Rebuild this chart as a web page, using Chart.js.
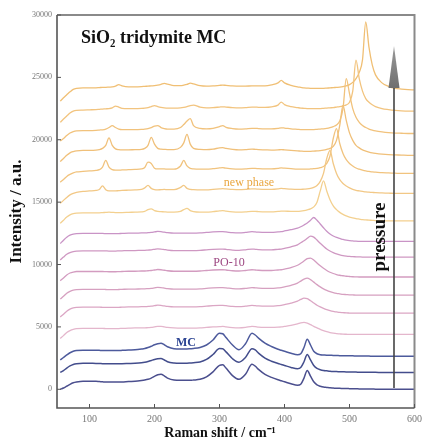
<!DOCTYPE html>
<html><head><meta charset="utf-8">
<script src="https://cdn.jsdelivr.net/npm/chart.js@4.4.1/dist/chart.umd.min.js"></script>
<style>html,body{margin:0;padding:0;background:#fff}#wrap{width:427px;height:441px;position:relative}</style>
</head><body><div id="wrap"><canvas id="c" width="427" height="441"></canvas></div>
<script>
// Raman shift grid (cm-1)
const ramanShift = [55,60,65,70,75,80,
 90,100,110,115,120,125,130,135,140,145,150,
 160,170,180,185,190,195,200,205,210,215,220,
 230,240,245,250,255,260,270,280,290,300,
 305,310,320,330,340,350,355,360,370,380,390,395,400,410,420,
 425,430,435,440,445,450,455,460,465,470,475,480,
 485,490,495,500,505,510,515,520,525,530,535,540,
 550,560,570,580,590,600];

const xTicks = [100,200,300,400,500,600];
const yTicks = [0,5000,10000,15000,20000,25000,30000];

// vertical display offsets of the stacked spectra (intensity units), bottom to top
const offsets = [0,1350,2650, 4400,6100,7550,9000,10600,11850, 13500,15700,17300,18750,20500,22300,24000];

// MC spectra
const mc_a = [0,100,250,400,520,580,
 640,640,640,620,600,580,580,580,580,580,580,
 620,640,700,740,800,900,1040,1160,1200,1080,900,
 740,720,720,720,720,740,800,1000,1400,1920,
 1960,1700,1100,800,1200,2000,1850,1600,1200,950,760,680,600,440,320,
 400,900,1500,1050,600,350,250,180,150,120,100,80,
 80,60,60,50,40,40,30,30,20,20,20,10,
 10,0,0,0,0,0];
const mc_b = [0,150,350,520,640,700,
 740,740,720,720,700,700,700,700,700,700,700,
 720,740,780,820,880,960,1040,1100,1120,1000,860,
 760,740,740,740,760,780,840,1040,1440,1920,
 1900,1650,1100,820,1200,1900,1800,1550,1150,900,720,640,560,400,300,
 400,860,1440,1000,560,320,220,160,130,100,80,70,
 60,50,40,40,30,30,20,20,20,10,10,10,
 0,0,0,0,0,0];
const mc_c = [-300,-100,100,280,400,460,
 480,480,480,470,460,460,460,460,460,460,470,
 500,520,580,620,700,800,920,1000,1040,920,760,
 600,580,580,580,600,620,700,900,1300,1840,
 1800,1500,900,520,1000,1840,1700,1450,1050,780,560,480,400,240,120,
 200,700,1360,900,400,200,120,100,80,80,60,60,
 40,40,40,30,30,20,20,20,10,10,0,0,
 0,0,0,0,0,0];
// PO-10 spectra
const po_a = [-320,-100,150,300,400,460,
 480,480,480,480,480,470,460,460,460,470,480,
 500,520,520,520,540,560,600,640,640,600,560,
 520,500,500,500,500,500,520,560,600,620,
 640,600,540,520,560,640,620,580,560,560,580,600,640,720,840,
 920,960,900,780,640,520,400,300,220,150,100,60,
 40,20,10,0,0,0,0,0,0,0,0,0,
 0,0,0,0,0,0];
const po_b = [-300,-80,160,320,420,460,
 480,480,480,480,470,460,460,460,460,470,480,
 500,500,520,520,540,560,600,640,620,580,540,
 500,500,500,500,500,500,520,560,600,620,
 620,600,540,520,560,620,600,580,560,560,600,620,680,800,960,
 1100,1200,1160,1000,820,640,500,380,280,200,140,100,
 60,40,20,10,0,0,0,0,0,0,0,0,
 0,0,0,0,0,0];
const po_c = [-320,-100,150,300,400,440,
 460,460,460,460,460,450,440,440,440,450,460,
 480,480,500,500,520,540,580,620,600,560,520,
 480,480,480,480,480,480,500,540,580,600,
 600,580,520,500,540,600,580,560,540,540,580,600,660,780,960,
 1120,1280,1360,1240,1040,840,660,500,380,280,200,140,
 100,60,40,20,10,0,0,0,0,0,0,0,
 0,0,0,0,0,0];
const po_d = [-300,-80,160,320,400,440,
 440,440,440,440,440,430,420,420,420,430,440,
 460,460,480,480,500,520,560,600,580,540,500,
 460,460,460,460,460,460,480,520,560,580,
 580,560,500,480,520,580,560,540,520,520,560,580,640,760,940,
 1100,1280,1480,1520,1360,1120,900,700,520,380,280,200,
 140,100,60,40,20,10,0,0,0,0,0,0,
 0,0,0,0,0,0];
const po_e = [-240,0,220,360,440,480,
 500,500,500,500,500,490,480,480,480,490,500,
 520,520,540,540,560,580,620,660,640,600,560,
 520,520,520,520,520,520,540,580,620,640,
 640,620,560,540,580,640,620,600,580,580,620,640,700,820,980,
 1140,1300,1500,1680,1600,1360,1100,860,640,480,360,260,
 180,120,80,50,30,20,10,0,0,0,0,0,
 0,0,0,0,0,0];
const po_f = [-160,100,340,500,580,620,
 640,640,640,640,640,630,620,620,620,630,640,
 660,660,680,680,700,720,760,800,780,740,700,
 660,660,660,660,660,660,680,720,760,780,
 780,760,700,680,720,780,760,740,720,720,760,780,840,940,1060,
 1180,1320,1480,1700,1920,1700,1400,1100,820,600,440,320,
 240,160,100,60,40,20,10,0,0,0,0,0,
 0,0,0,0,0,0];
// new phase spectra
const np_a = [-200,50,300,480,580,620,
 640,640,640,640,660,680,700,680,660,660,660,
 680,700,720,760,900,960,820,760,740,720,700,
 700,760,900,1000,820,740,700,700,740,800,
 820,780,720,700,720,760,760,740,720,720,760,780,780,760,760,
 780,820,880,960,1120,1500,2400,3200,2400,1700,1200,900,
 680,520,400,300,240,180,140,100,80,60,40,20,
 0,0,0,0,0,0];
const np_b = [-800,-560,-320,-120,0,80,
 160,200,240,320,600,300,200,200,200,220,240,
 260,280,320,440,640,400,300,280,300,320,300,
 300,480,640,400,320,300,280,280,320,360,
 380,360,320,300,320,360,360,340,320,320,360,400,380,340,320,
 320,340,360,400,480,640,960,1600,2800,3440,2400,1600,
 1100,800,600,440,320,240,200,160,120,100,80,60,
 40,20,0,0,0,0];
const np_c = [-700,-480,-240,-80,40,120,
 160,200,240,300,500,1040,500,300,260,260,280,
 300,320,360,480,900,800,420,360,360,360,340,
 340,600,1040,600,400,360,340,340,380,440,
 460,420,360,340,360,400,400,380,360,360,400,440,420,380,340,
 340,340,340,360,380,400,460,560,800,1400,2800,3600,
 2400,1600,1100,800,600,440,340,260,200,160,120,100,
 60,40,20,0,0,0];
const np_d = [-500,-250,0,200,300,360,
 400,400,420,460,560,800,1400,800,520,460,440,
 440,460,480,560,800,1440,900,560,500,480,460,
 460,640,1000,1680,900,560,480,460,500,600,
 620,560,480,440,460,500,480,460,440,420,440,460,440,400,360,
 340,320,320,320,340,360,380,420,480,560,720,1200,
 2400,4000,2800,1800,1200,800,600,440,340,260,200,160,
 100,60,40,20,0,0];
const np_e = [-600,-400,-160,40,160,220,
 240,240,260,280,300,360,480,640,480,360,320,
 320,320,340,360,400,480,600,640,480,400,360,
 360,480,720,1000,1200,640,420,380,420,560,
 640,500,400,360,380,420,420,400,380,380,420,460,440,380,340,
 320,320,320,320,320,340,360,380,420,480,560,680,
 1000,2000,4400,3200,2000,1300,900,640,480,360,280,220,
 140,80,40,20,0,0];
const np_f = [-900,-640,-400,-160,0,60,
 80,100,120,140,160,180,200,260,400,320,220,
 200,200,220,240,280,360,440,360,300,260,240,
 240,260,300,360,440,480,320,260,280,320,
 340,320,280,260,280,320,320,300,300,340,480,720,520,360,280,
 240,220,200,200,200,200,200,220,240,260,280,320,
 360,420,500,700,1600,4080,2600,1600,1000,700,500,360,
 200,120,60,20,0,0];
const np_g = [-900,-640,-400,-160,40,120,
 160,160,160,180,200,200,220,240,300,420,320,
 240,240,260,280,300,320,340,380,440,520,460,
 340,340,380,440,540,480,340,300,320,360,
 380,360,320,300,300,320,320,320,320,400,560,760,560,360,240,
 200,160,140,120,120,120,120,120,140,160,180,200,
 220,260,320,420,600,900,1400,2400,5440,3400,2000,1200,
 560,280,120,60,20,0];

const spectra = [mc_a,mc_b,mc_c,po_a,po_b,po_c,po_d,po_e,po_f,np_a,np_b,np_c,np_d,np_e,np_f,np_g];
const spectraNames = ['MC 1','MC 2','MC 3','PO-10 1','PO-10 2','PO-10 3','PO-10 4','PO-10 5','PO-10 6',
 'new phase 1','new phase 2','new phase 3','new phase 4','new phase 5','new phase 6','new phase 7'];
const colors = ['#4b4f8e','#434d8c','#4d5a9c',
 '#e4b6cc','#dba6c4','#d6a0c0','#d39cc0','#cf98c2','#c994c6',
 '#f3d08f','#f2c886','#f1c37e','#f0c07a','#f1c27c','#f2c47f','#f0bf74'];

const SERIF = "'Liberation Serif','Times New Roman',serif";

const datasets = spectra.map((s,k)=>({
  label: spectraNames[k],
  data: ramanShift.map((x,i)=>({x:x, y:offsets[k]+s[i]})),
  borderColor: colors[k],
  borderWidth: k<3 ? 1.5 : 1.3,
  pointRadius: 0,
  fill: false,
  cubicInterpolationMode: 'monotone'
}));

const decor = {
  id:'decor',
  afterDraw(chart){
    const ctx = chart.ctx, a = chart.chartArea;
    const xs = chart.scales.x, ys = chart.scales.y;
    ctx.save();
    // frame
    ctx.strokeStyle = '#8a8a8a'; ctx.lineWidth = 2;
    ctx.beginPath(); ctx.moveTo(a.left, a.top); ctx.lineTo(a.right, a.top); ctx.lineTo(a.right, a.bottom); ctx.stroke();
    ctx.strokeStyle = '#555'; ctx.lineWidth = 1.6;
    ctx.beginPath(); ctx.moveTo(a.left, a.top); ctx.lineTo(a.left, a.bottom); ctx.lineTo(a.right, a.bottom); ctx.stroke();
    // inward ticks
    ctx.lineWidth = 1; ctx.strokeStyle = '#555';
    ys.ticks.forEach(t=>{const y=ys.getPixelForValue(t.value); ctx.beginPath(); ctx.moveTo(a.left,y); ctx.lineTo(a.left+4,y); ctx.stroke();});
    xs.ticks.forEach(t=>{const x=xs.getPixelForValue(t.value); ctx.beginPath(); ctx.moveTo(x,a.bottom); ctx.lineTo(x,a.bottom-4); ctx.stroke();});
    // pressure arrow
    const ax = a.right - 20.5;
    ctx.strokeStyle = '#444'; ctx.lineWidth = 1.6;
    ctx.beginPath(); ctx.moveTo(ax, a.bottom - 20); ctx.lineTo(ax, 84); ctx.stroke();
    const g = ctx.createLinearGradient(0,46,0,88);
    g.addColorStop(0,'#9a9a9a'); g.addColorStop(1,'#6f6f6f');
    ctx.fillStyle = g;
    ctx.beginPath(); ctx.moveTo(ax, 46); ctx.lineTo(ax+5.5, 88); ctx.lineTo(ax-5.5, 88); ctx.closePath(); ctx.fill();
    // texts
    ctx.fillStyle = '#111'; ctx.font = 'bold 18px ' + SERIF; ctx.textAlign='left'; ctx.textBaseline='alphabetic';
    ctx.fillText('SiO\u2082 tridymite MC', 81, 43);
    ctx.textAlign='center'; ctx.textBaseline='middle';
    ctx.fillStyle = '#e9a640'; ctx.font = '12px ' + SERIF; ctx.fillText('new phase', 249, 183);
    ctx.fillStyle = '#9c4580'; ctx.font = '12px ' + SERIF; ctx.fillText('PO-10', 229, 263);
    ctx.fillStyle = '#2b4392'; ctx.font = 'bold 12px ' + SERIF; ctx.fillText('MC', 186, 343);
    ctx.fillStyle = '#111'; ctx.font = 'bold 14px ' + SERIF; ctx.fillText('Raman shift / cm\u207B\u00B9', 220, 433);
    ctx.save(); ctx.translate(380, 237); ctx.rotate(-Math.PI/2);
    ctx.font = 'bold 19px ' + SERIF; ctx.fillStyle='#111'; ctx.fillText('pressure', 0, 0);
    ctx.restore();
    ctx.restore();
  }
};

new Chart(document.getElementById('c'), {
  type:'line',
  data:{datasets},
  options:{
    responsive:false, animation:false, devicePixelRatio:1,
    layout:{padding:{top:15,right:10,left:0,bottom:0}},
    plugins:{legend:{display:false}, tooltip:{enabled:false}, title:{display:false}},
    scales:{
      x:{type:'linear', min:50, max:600,
        afterBuildTicks:s=>{s.ticks = xTicks.map(v=>({value:v}));},
        afterFit:s=>{s.height=33;},
        grid:{display:false, drawTicks:false, tickLength:0}, border:{display:false},
        ticks:{font:{family:SERIF,size:10}, color:'#777', padding:5, maxRotation:0, callback:v=>String(v)}
      },
      y:{type:'linear', min:-1500, max:30000,
        afterBuildTicks:s=>{s.ticks = yTicks.map(v=>({value:v}));},
        afterFit:s=>{s.width=57;},
        grid:{display:false, drawTicks:false, tickLength:0}, border:{display:false},
        ticks:{font:{family:SERIF,size:8}, color:'#777', padding:5, callback:v=>String(v)},
        title:{display:true, text:'Intensity / a.u.', font:{family:SERIF,size:17,weight:'bold'}, color:'#111', padding:{top:6,bottom:0}}
      }
    }
  },
  plugins:[decor]
});
</script></body></html>
